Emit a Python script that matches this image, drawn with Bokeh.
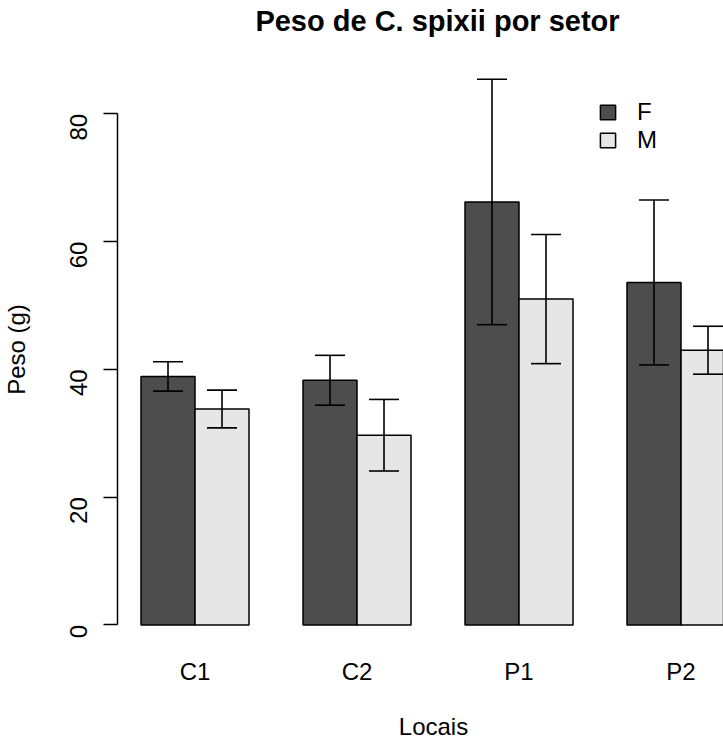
import math
from bokeh.plotting import figure
from bokeh.models import (ColumnDataSource, FixedTicker, Whisker, TeeHead, Label,
                          Legend, LegendItem, Range1d)
from bokeh.embed import file_html
from bokeh.resources import INLINE

# ---- data ----
locais = ["C1", "C2", "P1", "P2"]
peso_f = [38.9, 38.3, 66.2, 53.6]
peso_m = [33.8, 29.7, 51.0, 43.0]
erro_f = [2.3, 3.9, 19.2, 12.9]
erro_m = [2.95, 5.6, 10.1, 3.75]
y_ticks = [0, 20, 40, 60, 80]

titulo = "Peso de C. spixii por setor"
rotulo_x = "Locais"
rotulo_y = "Peso (g)"

# barplot(beside=TRUE) layout: each group = 1 gap + 2 bars of width 1
x_f = [3 * i + 1.5 for i in range(len(locais))]
x_m = [3 * i + 2.5 for i in range(len(locais))]
centros = [3 * i + 2 for i in range(len(locais))]

src_f = ColumnDataSource(dict(x=x_f, top=peso_f,
                              upper=[v + e for v, e in zip(peso_f, erro_f)],
                              lower=[v - e for v, e in zip(peso_f, erro_f)]))
src_m = ColumnDataSource(dict(x=x_m, top=peso_m,
                              upper=[v + e for v, e in zip(peso_m, erro_m)],
                              lower=[v - e for v, e in zip(peso_m, erro_m)]))

FONT = "Liberation Sans"
W, H = 723, 740

# plot frame covers the whole page; the axes sit at fixed positions
# (the R plot region edges) inside it
X_AXIS_AT = -3.52   # bottom of the R plot region (data units)
Y_AXIS_AT = 0.565   # left edge of the R plot region (data units)

p = figure(width=W, height=H, output_backend="svg", toolbar_location=None,
           x_range=Range1d(-1.602, 11.787), y_range=Range1d(-18.075, 97.73),
           min_border_left=0, min_border_right=0, min_border_top=0,
           min_border_bottom=0)
p.outline_line_color = None
p.grid.visible = False
p.background_fill_color = "white"
p.border_fill_color = "white"

r_f = p.vbar(x="x", top="top", bottom=0, width=1, source=src_f,
             fill_color="#4D4D4D", line_color="black", line_width=1.5)
r_m = p.vbar(x="x", top="top", bottom=0, width=1, source=src_m,
             fill_color="#E6E6E6", line_color="black", line_width=1.5)

for src in (src_f, src_m):
    w = Whisker(source=src, base="x", upper="upper", lower="lower",
                dimension="height", line_color="black", line_width=1.6,
                level="overlay",
                upper_head=TeeHead(size=30, line_color="black", line_width=1.6),
                lower_head=TeeHead(size=30, line_color="black", line_width=1.6))
    p.add_layout(w)

# y axis
ya = p.yaxis[0]
ya.fixed_location = Y_AXIS_AT
ya.ticker = FixedTicker(ticks=y_ticks)
ya.bounds = (y_ticks[0], y_ticks[-1])
ya.major_label_orientation = math.pi / 2
ya.major_tick_out = 14
ya.major_tick_in = 0
ya.minor_tick_line_color = None
ya.axis_line_width = 1.5
ya.major_tick_line_width = 1.5
ya.axis_line_color = "black"
ya.major_tick_line_color = "black"
ya.major_label_text_font = FONT
ya.major_label_text_font_size = "24px"
ya.major_label_text_color = "black"
ya.major_label_standoff = 25

# x axis (labels only)
xa = p.xaxis[0]
xa.fixed_location = X_AXIS_AT
xa.ticker = FixedTicker(ticks=centros)
xa.major_label_overrides = {c: l for c, l in zip(centros, locais)}
xa.axis_line_color = None
xa.major_tick_line_color = None
xa.minor_tick_line_color = None
xa.major_label_text_font = FONT
xa.major_label_text_font_size = "24px"
xa.major_label_text_color = "black"
xa.major_label_standoff = 5

# legend
leg = Legend(items=[LegendItem(label="F", renderers=[r_f]),
                    LegendItem(label="M", renderers=[r_m])],
             location=(598, 586), glyph_width=19, glyph_height=18,
             label_height=18, spacing=0, label_standoff=20, padding=0,
             margin=0, border_line_color=None, background_fill_alpha=0,
             label_text_font=FONT, label_text_font_size="24px",
             label_text_color="black")
p.add_layout(leg)

# texts (screen units, measured from the bottom-left corner)
p.add_layout(Label(x=437, y=H - 20.3, x_units="screen", y_units="screen",
                   text=titulo, text_font=FONT, text_font_size="29px",
                   text_font_style="bold", text_align="center",
                   text_baseline="alphabetic", text_color="black"))
p.add_layout(Label(x=433, y=H - 725.5, x_units="screen", y_units="screen",
                   text=rotulo_x, text_font=FONT, text_font_size="24px",
                   text_align="center", text_baseline="alphabetic",
                   text_color="black"))
p.add_layout(Label(x=16.2, y=H - 349, x_units="screen", y_units="screen",
                   text=rotulo_y, angle=math.pi / 2, text_font=FONT,
                   text_font_size="24px", text_align="center",
                   text_baseline="alphabetic", text_color="black"))

open("out.html", "w").write(file_html(p, INLINE))
